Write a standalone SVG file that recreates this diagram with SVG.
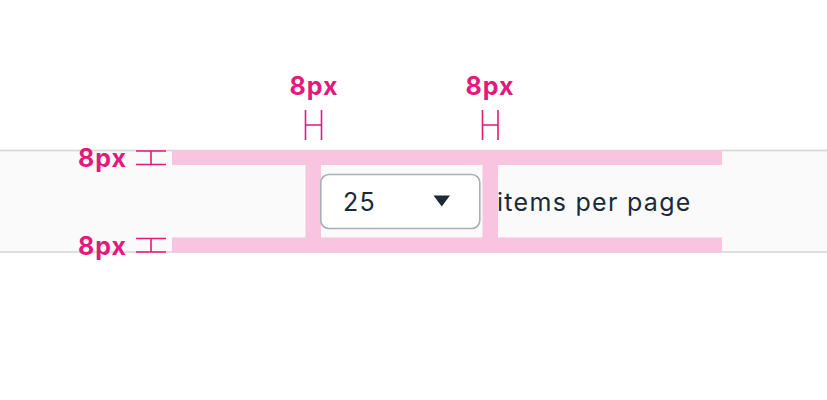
<svg xmlns="http://www.w3.org/2000/svg" width="827" height="400" viewBox="0 0 827 400">
<style>
.lbl{font-family:Inter,"Noto Sans",sans-serif;font-weight:700;font-size:25px;letter-spacing:1px;fill:#e3197c}
.mk{stroke:#e3197c;stroke-width:1.6;fill:none}
.pad{fill:#f8c4e0}
.txt{font-family:Inter,"Noto Sans",sans-serif;font-size:25px;letter-spacing:1.3px;fill:#1b2a36}
</style>
<rect width="827" height="400" fill="#ffffff"/>
<g id="band">
<rect x="0" y="150" width="827" height="102" fill="#fafafa"/>
<line x1="0" y1="150.5" x2="827" y2="150.5" stroke="#d4d4d4" stroke-width="1.5"/>
<line x1="0" y1="252" x2="827" y2="252" stroke="#d4d4d4" stroke-width="1.5"/>
</g>
<g id="padding">
<rect class="pad" x="172" y="150" width="550" height="15"/>
<rect class="pad" x="172" y="237.5" width="550" height="15"/>
<rect class="pad" x="305.5" y="165" width="15.5" height="73"/>
<rect class="pad" x="482.5" y="165" width="15.5" height="73"/>
</g>
<g id="dropdown">
<rect x="320.8" y="174.5" width="159" height="54" rx="8" fill="#ffffff" stroke="#a8afb5" stroke-width="1.6"/>
<text class="txt" x="343" y="211">25</text>
<polygon points="433.5,195.5 450,195.5 441.75,206.5" fill="#1b2a36"/>
</g>
<g id="label">
<text class="txt" x="497" y="211">items per page</text>
</g>
<g id="measures">
<text class="lbl" x="314" y="95" text-anchor="middle">8px</text>
<path class="mk" d="M305.5,110V140M321.5,110V140M305.5,125H321.5"/>
<text class="lbl" x="490" y="95" text-anchor="middle">8px</text>
<path class="mk" d="M482.5,110V140M498,110V140M482.5,125H498"/>
<text class="lbl" x="127" y="167" text-anchor="end">8px</text>
<path class="mk" d="M136,151H166M136,164.5H166M151,151V164.5"/>
<text class="lbl" x="127" y="255" text-anchor="end">8px</text>
<path class="mk" d="M136,238.5H166M136,252H166M151,238.5V252"/>
</g>
</svg>
